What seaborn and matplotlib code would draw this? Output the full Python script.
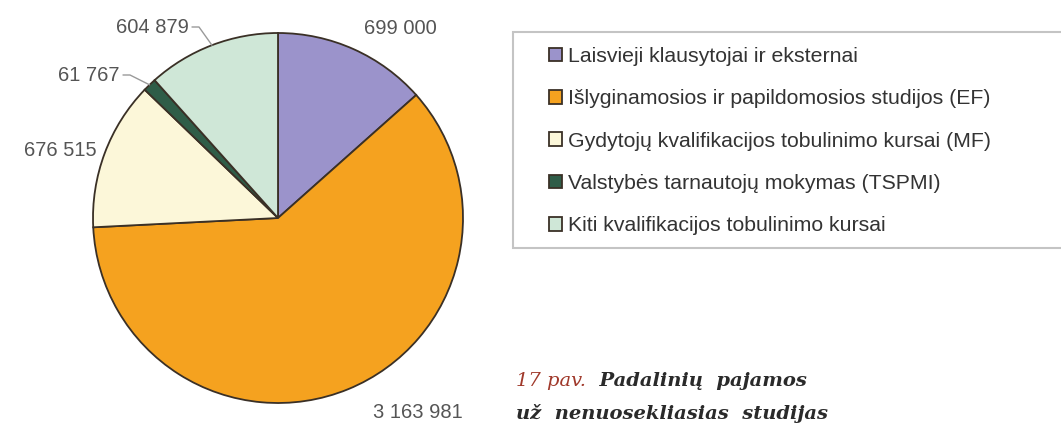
import matplotlib
matplotlib.use("Agg")
import matplotlib.pyplot as plt
import matplotlib.patches as mpatches
import seaborn as sns
import numpy as np

#data
categories = ["Laisvieji klausytojai ir eksternai",
              "Išlyginamosios ir papildomosios studijos (EF)",
              "Gydytojų kvalifikacijos tobulinimo kursai (MF)",
              "Valstybės tarnautojų mokymas (TSPMI)",
              "Kiti kvalifikacijos tobulinimo kursai"]
values = [699000, 3163981, 676515, 61767, 604879]
value_labels = ["699 000", "3 163 981", "676 515", "61 767", "604 879"]
colors = ["#9b93cb", "#f5a21f", "#fcf7d9", "#2f5d48", "#cfe7d7"]

#label placement (pixel coords, y from top)
label_x = [400, 418, 97, 120, 189]
label_y = [28, 412, 150, 75, 27]
label_ha = ["center", "center", "right", "right", "right"]
leader = [False, False, False, True, True]

#---
#style
sns.set_theme(style="white")
plt.rcParams["font.family"] = ["Liberation Sans", "DejaVu Sans"]

W, H = 1061, 423
fig = plt.figure(figsize=(W / 100, H / 100), dpi=100)
ax = fig.add_axes([0, 0, 1, 1])

cx, cy, R = 278, H - 218, 185
wedges, _ = ax.pie(values, colors=colors, startangle=90, counterclock=False,
                   center=(cx, cy), radius=R,
                   wedgeprops=dict(edgecolor="#3a3026", linewidth=1.3))
ax.set_xlim(0, W)
ax.set_ylim(0, H)
ax.set_aspect("equal")
ax.axis("off")
#---

#---
#value labels and leader lines
for i, w in enumerate(wedges):
	tx, ty = label_x[i], H - label_y[i]
	ax.text(tx, ty, value_labels[i], ha=label_ha[i], va="center",
	        fontsize=14.5, color="#555555")
	if leader[i]:
		mid = np.deg2rad((w.theta1 + w.theta2) / 2)
		ex = cx + R * np.cos(mid)
		ey = cy + R * np.sin(mid)
		ax.plot([tx + 3, tx + 10, ex], [ty, ty, ey], color="#9a9a9a", lw=1)
#---

#---
#legend
box = mpatches.Rectangle((513 / W, 1 - 248 / H), 560 / W, 216 / H,
                         transform=fig.transFigure, facecolor="white",
                         edgecolor="#c4c4c4", linewidth=1.5, zorder=0)
fig.patches.append(box)
leg = fig.legend(wedges, categories, loc="upper left",
                 bbox_to_anchor=(534 / W, 1 - 32 / H), frameon=False,
                 fontsize=15.3, handlelength=0.6, handleheight=0.6,
                 handletextpad=0.3, labelspacing=1.1, borderpad=0.2)
for t in leg.get_texts():
	t.set_color("#333333")
#---

#---
#caption
t1 = fig.text(516 / W, 1 - 381 / H, "17 pav.", family="DejaVu Serif",
              style="italic", color="#a0392b", fontsize=14, va="center")
ax.annotate("  Padalinių  pajamos", xy=(1, 0.5), xycoords=t1, va="center",
            family="DejaVu Serif", style="italic", weight="bold",
            color="#2a2a2a", fontsize=14)
fig.text(516 / W, 1 - 413 / H, "už  nenuosekliasias  studijas",
         family="DejaVu Serif", style="italic", weight="bold",
         color="#2a2a2a", fontsize=14, va="center")
#---

fig.savefig("out.png", dpi=100, facecolor="white")
